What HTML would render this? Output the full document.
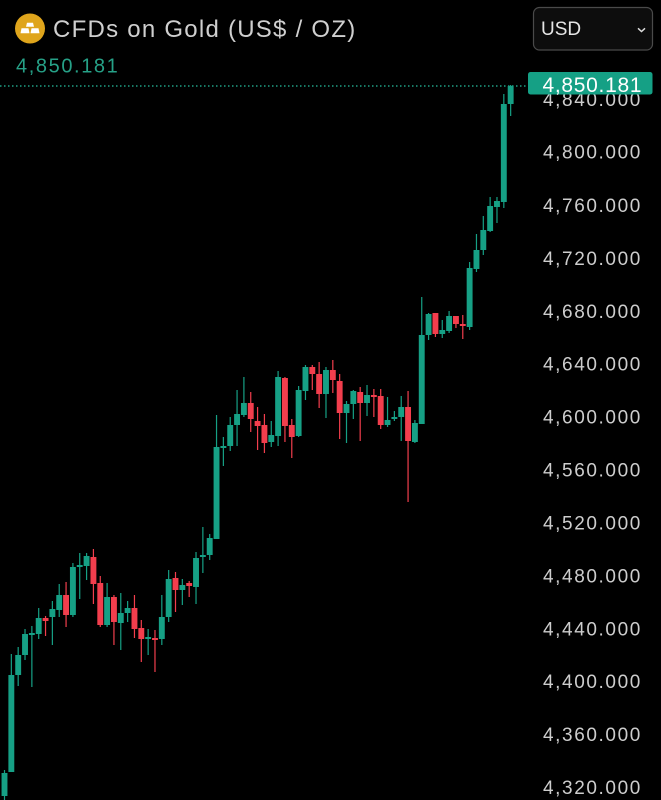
<!DOCTYPE html>
<html><head><meta charset="utf-8"><style>
html,body{margin:0;padding:0;background:#000;}
svg{display:block;}
text{font-family:"Liberation Sans",Arial,sans-serif;}
.g{fill:#16a085}.r{fill:#f23e4d}
</style></head><body>
<svg width="661" height="800" viewBox="0 0 661 800" xmlns="http://www.w3.org/2000/svg">
<rect width="661" height="800" fill="#000"/>
<!-- icon -->
<circle cx="30" cy="28.5" r="15" fill="#dfa51c"/>
<polygon points="26,26.7 27,22.7 33,22.7 34,26.7" fill="#fff"/>
<polygon points="20.5,33.3 21.5,28.3 28.5,28.3 29.5,33.3" fill="#fff"/>
<polygon points="30.5,33.3 31.5,28.3 38.5,28.3 39.5,33.3" fill="#fff"/>
<text x="53" y="37" font-size="24" letter-spacing="1.25" fill="#cfcfcf">CFDs on Gold (US$ / OZ)</text>
<text x="16" y="72.5" font-size="20" letter-spacing="1.6" fill="#26a187">4,850.181</text>
<!-- USD dropdown -->
<rect x="533.5" y="7.5" width="119" height="42.5" rx="6" fill="#0d0d0d" stroke="#4a4a4a" stroke-width="1.2"/>
<text x="541" y="35" font-size="19" fill="#e6e6e6">USD</text>
<polyline points="638,28.3 641.5,31.5 645,28.3" fill="none" stroke="#dddddd" stroke-width="1.5"/>
<!-- axis labels -->
<g font-size="19" letter-spacing="1.6" fill="#cdcdcd">
<text x="543" y="106.1">4,840.000</text>
<text x="543" y="158.5">4,800.000</text>
<text x="543" y="211.9">4,760.000</text>
<text x="543" y="264.8">4,720.000</text>
<text x="543" y="317.8">4,680.000</text>
<text x="543" y="370.7">4,640.000</text>
<text x="543" y="423.6">4,600.000</text>
<text x="543" y="476.5">4,560.000</text>
<text x="543" y="529.4">4,520.000</text>
<text x="543" y="582.3">4,480.000</text>
<text x="543" y="635.3">4,440.000</text>
<text x="543" y="688.2">4,400.000</text>
<text x="543" y="741.1">4,360.000</text>
<text x="543" y="794">4,320.000</text>
</g>
<!-- dotted price line -->
<line x1="0" y1="86" x2="528" y2="86" stroke="#1fa085" stroke-width="1.5" stroke-dasharray="1.5 2.5"/>
<!-- candles -->
<g class="g" transform="translate(4.5)"><rect x="-.6" y="770" width="1.2" height="30"/><rect x="-2.95" y="773" width="5.9" height="23"/></g>
<g class="g" transform="translate(11.34)"><rect x="-.6" y="654" width="1.2" height="118"/><rect x="-2.95" y="675" width="5.9" height="97"/></g>
<g class="g" transform="translate(18.18)"><rect x="-.6" y="647" width="1.2" height="39"/><rect x="-2.95" y="655" width="5.9" height="20"/></g>
<g class="g" transform="translate(25.02)"><rect x="-.6" y="629" width="1.2" height="31"/><rect x="-2.95" y="634" width="5.9" height="21"/></g>
<g class="g" transform="translate(31.86)"><rect x="-.6" y="626" width="1.2" height="61"/><rect x="-2.95" y="633" width="5.9" height="2"/></g>
<g class="g" transform="translate(38.7)"><rect x="-.6" y="608" width="1.2" height="31"/><rect x="-2.95" y="618" width="5.9" height="16"/></g>
<g class="r" transform="translate(45.54)"><rect x="-.6" y="616" width="1.2" height="20"/><rect x="-2.95" y="618" width="5.9" height="3"/></g>
<g class="g" transform="translate(52.38)"><rect x="-.6" y="601" width="1.2" height="44"/><rect x="-2.95" y="609" width="5.9" height="8"/></g>
<g class="g" transform="translate(59.22)"><rect x="-.6" y="584" width="1.2" height="33"/><rect x="-2.95" y="595" width="5.9" height="15"/></g>
<g class="r" transform="translate(66.06)"><rect x="-.6" y="582" width="1.2" height="45"/><rect x="-2.95" y="595" width="5.9" height="20"/></g>
<g class="g" transform="translate(72.9)"><rect x="-.6" y="563" width="1.2" height="54"/><rect x="-2.95" y="567" width="5.9" height="48"/></g>
<g class="g" transform="translate(79.74)"><rect x="-.6" y="553" width="1.2" height="46"/><rect x="-2.95" y="565" width="5.9" height="2"/></g>
<g class="g" transform="translate(86.58)"><rect x="-.6" y="553" width="1.2" height="27"/><rect x="-2.95" y="556" width="5.9" height="10"/></g>
<g class="r" transform="translate(93.42)"><rect x="-.6" y="549" width="1.2" height="55"/><rect x="-2.95" y="557" width="5.9" height="27"/></g>
<g class="r" transform="translate(100.26)"><rect x="-.6" y="576" width="1.2" height="51"/><rect x="-2.95" y="583" width="5.9" height="42"/></g>
<g class="g" transform="translate(107.1)"><rect x="-.6" y="583" width="1.2" height="44"/><rect x="-2.95" y="597" width="5.9" height="28"/></g>
<g class="r" transform="translate(113.94)"><rect x="-.6" y="595" width="1.2" height="50"/><rect x="-2.95" y="597" width="5.9" height="25"/></g>
<g class="g" transform="translate(120.78)"><rect x="-.6" y="593" width="1.2" height="57"/><rect x="-2.95" y="613" width="5.9" height="10"/></g>
<g class="g" transform="translate(127.62)"><rect x="-.6" y="601" width="1.2" height="21"/><rect x="-2.95" y="608" width="5.9" height="5"/></g>
<g class="r" transform="translate(134.46)"><rect x="-.6" y="595" width="1.2" height="43"/><rect x="-2.95" y="608" width="5.9" height="21"/></g>
<g class="r" transform="translate(141.3)"><rect x="-.6" y="620" width="1.2" height="42"/><rect x="-2.95" y="628" width="5.9" height="11"/></g>
<g class="g" transform="translate(148.14)"><rect x="-.6" y="629" width="1.2" height="26"/><rect x="-2.95" y="637" width="5.9" height="2"/></g>
<g class="r" transform="translate(154.98)"><rect x="-.6" y="630" width="1.2" height="42"/><rect x="-2.95" y="638" width="5.9" height="2"/></g>
<g class="g" transform="translate(161.82)"><rect x="-.6" y="595" width="1.2" height="50"/><rect x="-2.95" y="617" width="5.9" height="22"/></g>
<g class="g" transform="translate(168.66)"><rect x="-.6" y="570" width="1.2" height="52"/><rect x="-2.95" y="579" width="5.9" height="38"/></g>
<g class="r" transform="translate(175.5)"><rect x="-.6" y="572" width="1.2" height="40"/><rect x="-2.95" y="578" width="5.9" height="12"/></g>
<g class="g" transform="translate(182.34)"><rect x="-.6" y="579" width="1.2" height="26"/><rect x="-2.95" y="585" width="5.9" height="5"/></g>
<g class="r" transform="translate(189.18)"><rect x="-.6" y="581" width="1.2" height="16"/><rect x="-2.95" y="583" width="5.9" height="3"/></g>
<g class="g" transform="translate(196.02)"><rect x="-.6" y="552" width="1.2" height="52"/><rect x="-2.95" y="558" width="5.9" height="29"/></g>
<g class="g" transform="translate(202.86)"><rect x="-.6" y="527" width="1.2" height="46"/><rect x="-2.95" y="555" width="5.9" height="2"/></g>
<g class="g" transform="translate(209.7)"><rect x="-.6" y="534" width="1.2" height="26"/><rect x="-2.95" y="538" width="5.9" height="17"/></g>
<g class="g" transform="translate(216.54)"><rect x="-.6" y="415" width="1.2" height="124"/><rect x="-2.95" y="447" width="5.9" height="92"/></g>
<g class="g" transform="translate(223.38)"><rect x="-.6" y="437" width="1.2" height="29"/><rect x="-2.95" y="446" width="5.9" height="2"/></g>
<g class="g" transform="translate(230.22)"><rect x="-.6" y="417" width="1.2" height="34"/><rect x="-2.95" y="425" width="5.9" height="21"/></g>
<g class="g" transform="translate(237.06)"><rect x="-.6" y="390" width="1.2" height="56"/><rect x="-2.95" y="414" width="5.9" height="11"/></g>
<g class="g" transform="translate(243.9)"><rect x="-.6" y="377" width="1.2" height="40"/><rect x="-2.95" y="403" width="5.9" height="12"/></g>
<g class="r" transform="translate(250.74)"><rect x="-.6" y="392" width="1.2" height="40"/><rect x="-2.95" y="403" width="5.9" height="16"/></g>
<g class="r" transform="translate(257.58)"><rect x="-.6" y="407" width="1.2" height="43"/><rect x="-2.95" y="421" width="5.9" height="5"/></g>
<g class="r" transform="translate(264.42)"><rect x="-.6" y="414" width="1.2" height="39"/><rect x="-2.95" y="425" width="5.9" height="18"/></g>
<g class="g" transform="translate(271.26)"><rect x="-.6" y="421" width="1.2" height="26"/><rect x="-2.95" y="435" width="5.9" height="7"/></g>
<g class="g" transform="translate(278.1)"><rect x="-.6" y="371" width="1.2" height="75"/><rect x="-2.95" y="377" width="5.9" height="59"/></g>
<g class="r" transform="translate(284.94)"><rect x="-.6" y="377" width="1.2" height="65"/><rect x="-2.95" y="378" width="5.9" height="48"/></g>
<g class="r" transform="translate(291.78)"><rect x="-.6" y="419" width="1.2" height="39"/><rect x="-2.95" y="425" width="5.9" height="12"/></g>
<g class="g" transform="translate(298.62)"><rect x="-.6" y="386" width="1.2" height="51"/><rect x="-2.95" y="390" width="5.9" height="46"/></g>
<g class="g" transform="translate(305.46)"><rect x="-.6" y="365" width="1.2" height="35"/><rect x="-2.95" y="367" width="5.9" height="24"/></g>
<g class="r" transform="translate(312.3)"><rect x="-.6" y="365" width="1.2" height="25"/><rect x="-2.95" y="367" width="5.9" height="7"/></g>
<g class="r" transform="translate(319.14)"><rect x="-.6" y="362" width="1.2" height="46"/><rect x="-2.95" y="374" width="5.9" height="20"/></g>
<g class="g" transform="translate(325.98)"><rect x="-.6" y="367" width="1.2" height="51"/><rect x="-2.95" y="370" width="5.9" height="24"/></g>
<g class="r" transform="translate(332.82)"><rect x="-.6" y="360" width="1.2" height="33"/><rect x="-2.95" y="370" width="5.9" height="10"/></g>
<g class="r" transform="translate(339.66)"><rect x="-.6" y="374" width="1.2" height="65"/><rect x="-2.95" y="381" width="5.9" height="32"/></g>
<g class="g" transform="translate(346.5)"><rect x="-.6" y="401" width="1.2" height="42"/><rect x="-2.95" y="404" width="5.9" height="9"/></g>
<g class="g" transform="translate(353.34)"><rect x="-.6" y="390" width="1.2" height="29"/><rect x="-2.95" y="391" width="5.9" height="13"/></g>
<g class="r" transform="translate(360.18)"><rect x="-.6" y="387" width="1.2" height="54"/><rect x="-2.95" y="392" width="5.9" height="11"/></g>
<g class="g" transform="translate(367.02)"><rect x="-.6" y="385" width="1.2" height="31"/><rect x="-2.95" y="395" width="5.9" height="8"/></g>
<g class="r" transform="translate(373.86)"><rect x="-.6" y="389" width="1.2" height="28"/><rect x="-2.95" y="395" width="5.9" height="2"/></g>
<g class="r" transform="translate(380.7)"><rect x="-.6" y="389" width="1.2" height="40"/><rect x="-2.95" y="396" width="5.9" height="29"/></g>
<g class="g" transform="translate(387.54)"><rect x="-.6" y="397" width="1.2" height="30"/><rect x="-2.95" y="420" width="5.9" height="5"/></g>
<g class="g" transform="translate(394.38)"><rect x="-.6" y="411" width="1.2" height="10"/><rect x="-2.95" y="417" width="5.9" height="2"/></g>
<g class="g" transform="translate(401.22)"><rect x="-.6" y="396" width="1.2" height="45"/><rect x="-2.95" y="407" width="5.9" height="10"/></g>
<g class="r" transform="translate(408.06)"><rect x="-.6" y="391" width="1.2" height="111"/><rect x="-2.95" y="407" width="5.9" height="34"/></g>
<g class="g" transform="translate(414.9)"><rect x="-.6" y="420" width="1.2" height="23"/><rect x="-2.95" y="423" width="5.9" height="19"/></g>
<g class="g" transform="translate(421.74)"><rect x="-.6" y="297" width="1.2" height="127"/><rect x="-2.95" y="335" width="5.9" height="89"/></g>
<g class="g" transform="translate(428.58)"><rect x="-.6" y="313" width="1.2" height="27"/><rect x="-2.95" y="314" width="5.9" height="21"/></g>
<g class="r" transform="translate(435.42)"><rect x="-.6" y="313" width="1.2" height="24"/><rect x="-2.95" y="313" width="5.9" height="21"/></g>
<g class="g" transform="translate(442.26)"><rect x="-.6" y="320" width="1.2" height="18"/><rect x="-2.95" y="330" width="5.9" height="4"/></g>
<g class="g" transform="translate(449.1)"><rect x="-.6" y="311" width="1.2" height="22"/><rect x="-2.95" y="316" width="5.9" height="15"/></g>
<g class="r" transform="translate(455.94)"><rect x="-.6" y="316" width="1.2" height="12"/><rect x="-2.95" y="316" width="5.9" height="8"/></g>
<g class="r" transform="translate(462.78)"><rect x="-.6" y="315" width="1.2" height="24"/><rect x="-2.95" y="324" width="5.9" height="2"/></g>
<g class="g" transform="translate(469.62)"><rect x="-.6" y="262" width="1.2" height="68"/><rect x="-2.95" y="268" width="5.9" height="59"/></g>
<g class="g" transform="translate(476.46)"><rect x="-.6" y="234" width="1.2" height="38"/><rect x="-2.95" y="250" width="5.9" height="19"/></g>
<g class="g" transform="translate(483.3)"><rect x="-.6" y="216" width="1.2" height="39"/><rect x="-2.95" y="230" width="5.9" height="20"/></g>
<g class="g" transform="translate(490.14)"><rect x="-.6" y="197" width="1.2" height="35"/><rect x="-2.95" y="206" width="5.9" height="25"/></g>
<g class="g" transform="translate(496.98)"><rect x="-.6" y="197" width="1.2" height="26"/><rect x="-2.95" y="201" width="5.9" height="6"/></g>
<g class="g" transform="translate(503.82)"><rect x="-.6" y="94" width="1.2" height="114"/><rect x="-2.95" y="104" width="5.9" height="98"/></g>
<g class="g" transform="translate(510.66)"><rect x="-.6" y="85" width="1.2" height="31"/><rect x="-2.95" y="86" width="5.9" height="18"/></g>
<!-- last price label -->
<rect x="528" y="72" width="124.5" height="22.5" rx="2.5" fill="#15a085"/>
<text x="542.5" y="91.8" font-size="21" letter-spacing="0.7" fill="#ffffff">4,850.181</text>
</svg>
</body></html>
